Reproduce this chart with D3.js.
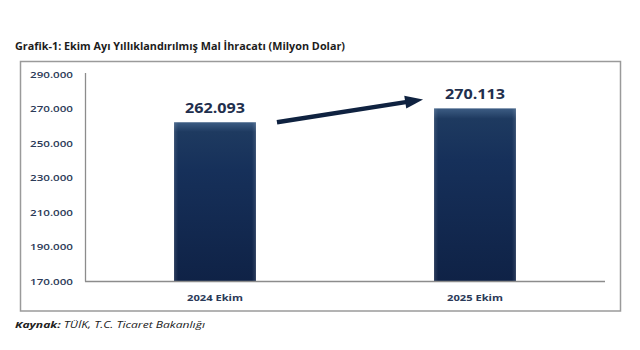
<!DOCTYPE html>
<html><head><meta charset="utf-8">
<script src="https://cdn.jsdelivr.net/npm/d3@7"></script>
<style>body{margin:0;background:#fff;}svg{display:block;}</style>
</head><body>
<svg id="c" width="640" height="350"></svg>
<script>
const categories = ["2024 Ekim", "2025 Ekim"];
const values = [262093, 270113];
const valueLabels = ["262.093", "270.113"];
const yTicks = [170000, 190000, 210000, 230000, 250000, 270000, 290000];
const yTickLabels = ["170.000", "190.000", "210.000", "230.000", "250.000", "270.000", "290.000"];
const title = "Grafik-1: Ekim Ayı Yıllıklandırılmış Mal İhracatı (Milyon Dolar)";

const svg = d3.select("#c");
const font = "'Open Sans', 'DejaVu Sans', sans-serif";

const defs = svg.append("defs");
const g = defs.append("linearGradient").attr("id","barg").attr("x1",0).attr("y1",0).attr("x2",0).attr("y2",1);
g.append("stop").attr("offset","0%").attr("stop-color","#3d5d84");
g.append("stop").attr("offset","6%").attr("stop-color","#1e3a60");
g.append("stop").attr("offset","30%").attr("stop-color","#16305a");
g.append("stop").attr("offset","100%").attr("stop-color","#0f2246");
const gh = defs.append("linearGradient").attr("id","barh").attr("x1",0).attr("y1",0).attr("x2",1).attr("y2",0);
gh.append("stop").attr("offset","0%").attr("stop-color","#ffffff").attr("stop-opacity",0.12);
gh.append("stop").attr("offset","5%").attr("stop-color","#ffffff").attr("stop-opacity",0);
gh.append("stop").attr("offset","95%").attr("stop-color","#ffffff").attr("stop-opacity",0);
gh.append("stop").attr("offset","100%").attr("stop-color","#ffffff").attr("stop-opacity",0.12);

// title
svg.append("text").attr("x",15).attr("y",50).text(title)
  .attr("font-family",font).attr("font-weight","bold").attr("font-size",10.5)
  .attr("fill","#1c1c1c").attr("textLength",330).attr("lengthAdjust","spacingAndGlyphs");

// frame
svg.append("rect").attr("x",20.5).attr("y",61.5).attr("width",600).attr("height",249.5)
  .attr("fill","none").attr("stroke","#9a9a9a").attr("stroke-width",1.5);

const x = d3.scaleBand().domain(categories).range([85,605]).paddingInner(0.685).paddingOuter(0.3425);
const y = d3.scaleLinear().domain([170000,290000]).range([281.5,74]);

// y axis line
svg.append("line").attr("x1",85.5).attr("x2",85.5).attr("y1",y(290000)-1).attr("y2",y(170000))
  .attr("stroke","#8c8c8c").attr("stroke-width",1.3);

// y tick labels
svg.append("g").selectAll("text").data(yTicks).join("text")
  .attr("x",73).attr("y",d=>y(d)+3.5).attr("text-anchor","end")
  .text((d,i)=>yTickLabels[i])
  .attr("font-family",font).attr("font-weight",600).attr("font-size",9).attr("fill","#2b3a58")
  .attr("textLength",43).attr("lengthAdjust","spacingAndGlyphs");

// bars
const bars = svg.append("g");
bars.selectAll("rect.b").data(values).join("rect").attr("class","b")
  .attr("x",(d,i)=>x(categories[i])).attr("width",x.bandwidth())
  .attr("y",d=>y(d)).attr("height",d=>y(170000)-y(d))
  .attr("fill","url(#barg)");
bars.selectAll("rect.h").data(values).join("rect").attr("class","h")
  .attr("x",(d,i)=>x(categories[i])).attr("width",x.bandwidth())
  .attr("y",d=>y(d)).attr("height",d=>y(170000)-y(d))
  .attr("fill","url(#barh)");

// x axis line
svg.append("line").attr("x1",85).attr("x2",605).attr("y1",y(170000)).attr("y2",y(170000))
  .attr("stroke","#8c8c8c").attr("stroke-width",1.5);

// value labels
svg.append("g").selectAll("text").data(values).join("text")
  .attr("x",(d,i)=>x(categories[i])+x.bandwidth()/2).attr("y",d=>y(d)-9)
  .attr("text-anchor","middle").text((d,i)=>valueLabels[i])
  .attr("font-family",font).attr("font-weight","bold").attr("font-size",14)
  .attr("fill","#1f2f4d").attr("textLength",60).attr("lengthAdjust","spacingAndGlyphs");

// category labels
svg.append("g").selectAll("text").data(categories).join("text")
  .attr("x",d=>x(d)+x.bandwidth()/2).attr("y",301).attr("text-anchor","middle").text(d=>d)
  .attr("font-family",font).attr("font-weight","bold").attr("font-size",9)
  .attr("fill","#2b3a58").attr("textLength",56).attr("lengthAdjust","spacingAndGlyphs");

// arrow
const x0 = x(categories[0])+x.bandwidth()+21, y0 = y(values[0]);
const x1 = x(categories[1])-11, y1 = y(values[1])-9;
const ang = Math.atan2(y1-y0, x1-x0);
const hl = 18, hw = 6.5;
const bx = x1 - hl*Math.cos(ang), by = y1 - hl*Math.sin(ang);
svg.append("line").attr("x1",x0).attr("y1",y0).attr("x2",bx+2*Math.cos(ang)).attr("y2",by+2*Math.sin(ang))
  .attr("stroke","#0f2240").attr("stroke-width",4.5);
const px = -Math.sin(ang), py = Math.cos(ang);
svg.append("path").attr("d",`M${x1},${y1}L${bx+px*hw},${by+py*hw}L${bx-px*hw},${by-py*hw}Z`)
  .attr("fill","#0f2240");

// source
const src = svg.append("text").attr("x",15).attr("y",328)
  .attr("font-family",font).attr("font-size",9).attr("font-style","italic").attr("fill","#222")
  .attr("textLength",190).attr("lengthAdjust","spacingAndGlyphs");
src.append("tspan").attr("font-weight","bold").text("Kaynak:");
src.append("tspan").text(" TÜİK, T.C. Ticaret Bakanlığı");
</script>
</body></html>
